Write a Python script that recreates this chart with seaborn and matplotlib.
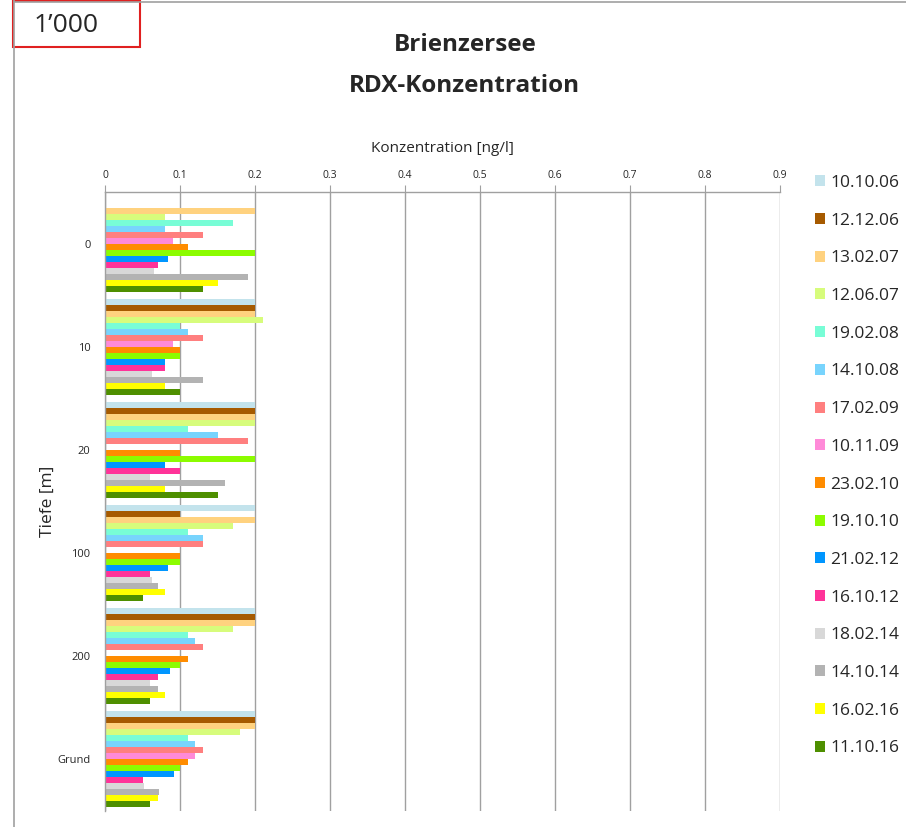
import numpy as np
import pandas as pd
import matplotlib
matplotlib.use("Agg")
import matplotlib.pyplot as plt
import seaborn as sns
from matplotlib.patches import Rectangle
from matplotlib.lines import Line2D

# depth groups (y categories) and sampling dates (hue)
depths = ["0", "10", "20", "100", "200", "Grund"]
dates = ["10.10.06", "12.12.06", "13.02.07", "12.06.07", "19.02.08", "14.10.08",
         "17.02.09", "10.11.09", "23.02.10", "19.10.10", "21.02.12", "16.10.12",
         "18.02.14", "14.10.14", "16.02.16", "11.10.16"]
colors = ["#C3E3EC", "#A65A00", "#FFD27F", "#D7FC7C", "#78FDD6", "#78D4FD",
          "#FF7F7F", "#FF8AD8", "#FF8C00", "#8CFC00", "#0096FF", "#FF3399",
          "#D8D8D8", "#B3B3B3", "#FFFF00", "#4E8F00"]

nan = np.nan
# RDX concentration [ng/l], one value per date, in the order of `dates`
vals_0 = [nan, nan, 0.20, 0.08, 0.17, 0.08, 0.13, 0.09, 0.11, 0.20, 0.084, 0.07, 0.065, 0.19, 0.15, 0.13]
vals_10 = [0.20, 0.20, 0.20, 0.21, 0.10, 0.11, 0.13, 0.09, 0.10, 0.10, 0.08, 0.08, 0.062, 0.13, 0.08, 0.10]
vals_20 = [0.20, 0.20, 0.20, 0.20, 0.11, 0.15, 0.19, nan, 0.10, 0.20, 0.08, 0.10, 0.06, 0.16, 0.08, 0.15]
vals_100 = [0.20, 0.10, 0.20, 0.17, 0.11, 0.13, 0.13, nan, 0.10, 0.10, 0.084, 0.06, 0.062, 0.071, 0.08, 0.05]
vals_200 = [0.20, 0.20, 0.20, 0.17, 0.11, 0.12, 0.13, nan, 0.11, 0.10, 0.087, 0.07, 0.06, 0.07, 0.08, 0.06]
vals_grund = [0.20, 0.20, 0.20, 0.18, 0.11, 0.12, 0.13, 0.12, 0.11, 0.10, 0.092, 0.05, 0.052, 0.072, 0.07, 0.06]

x_ticks = [0, 0.1, 0.2, 0.3, 0.4, 0.5, 0.6, 0.7, 0.8, 0.9]

rows = []
for depth, vals in zip(depths, [vals_0, vals_10, vals_20, vals_100, vals_200, vals_grund]):
    for d, v in zip(dates, vals):
        rows.append({"Tiefe": depth, "Datum": d, "Konz": v})
df = pd.DataFrame(rows)

sns.set_style("white")
plt.rcParams["font.family"] = ["Open Sans", "DejaVu Sans"]

fig = plt.figure(figsize=(9.06, 8.27), dpi=100)
ax = fig.add_axes([105 / 906, 1 - 811 / 827, 675 / 906, 619 / 827])

sns.barplot(data=df, y="Tiefe", x="Konz", hue="Datum", order=depths, hue_order=dates,
            palette=colors, orient="h", width=0.93, linewidth=0, errorbar=None,
            saturation=1, ax=ax, legend=True)

ax.set_xlim(0, 0.9)
ax.set_ylim(5.5, -0.5)
ax.set_xticks(x_ticks)
ax.set_xticklabels([f"{t:g}" for t in x_ticks], fontsize=7.5)
ax.xaxis.tick_top()
ax.xaxis.set_label_position("top")
ax.set_xlabel("Konzentration [ng/l]", fontsize=11, labelpad=13)
ax.set_ylabel("Tiefe [m]", fontsize=12.5)
ax.yaxis.set_label_coords((56 - 105) / 675, 0.5)
ax.tick_params(axis="x", top=True, direction="out", length=5, color="#A0A0A0", pad=3)
ax.tick_params(axis="y", left=False, labelsize=8, pad=7)
ax.grid(axis="x", color="#A0A0A0", linewidth=1)
ax.set_axisbelow(True)
for side in ["right", "bottom"]:
    ax.spines[side].set_visible(False)
for side in ["left", "top"]:
    ax.spines[side].set_color("#A0A0A0")
    ax.spines[side].set_linewidth(1)

handles, labels = ax.get_legend_handles_labels()
ax.legend(handles, labels, loc="upper left", bbox_to_anchor=(808 / 906, 1 - 168 / 827),
          bbox_transform=fig.transFigure, frameon=False, fontsize=12.5,
          handlelength=0.6, handleheight=0.6, handletextpad=0.3, labelspacing=1.25,
          borderaxespad=0)

# title
fig.text(0.513, 1 - 45 / 827, "Brienzersee", ha="center", va="center",
         fontsize=17.5, fontweight="bold")
fig.text(0.513, 1 - 86 / 827, "RDX-Konzentration", ha="center", va="center",
         fontsize=17.5, fontweight="bold")

# outer chart frame and the red box top left
fig.add_artist(Line2D([14 / 906, 14 / 906], [0, 1], color="#A0A0A0", lw=1.2,
                      transform=fig.transFigure))
fig.add_artist(Line2D([14 / 906, 1], [1 - 2 / 827, 1 - 2 / 827], color="#A0A0A0", lw=1.2,
                      transform=fig.transFigure))
fig.add_artist(Rectangle((13 / 906, 1 - 47 / 827), 127 / 906, 46 / 827, fill=True,
                         facecolor="white", edgecolor="#E02020", lw=1.5,
                         transform=fig.transFigure))
fig.text(34 / 906, 1 - 26 / 827, "1\u2019000", ha="left", va="center", fontsize=19)

fig.savefig("out.png", dpi=100)
